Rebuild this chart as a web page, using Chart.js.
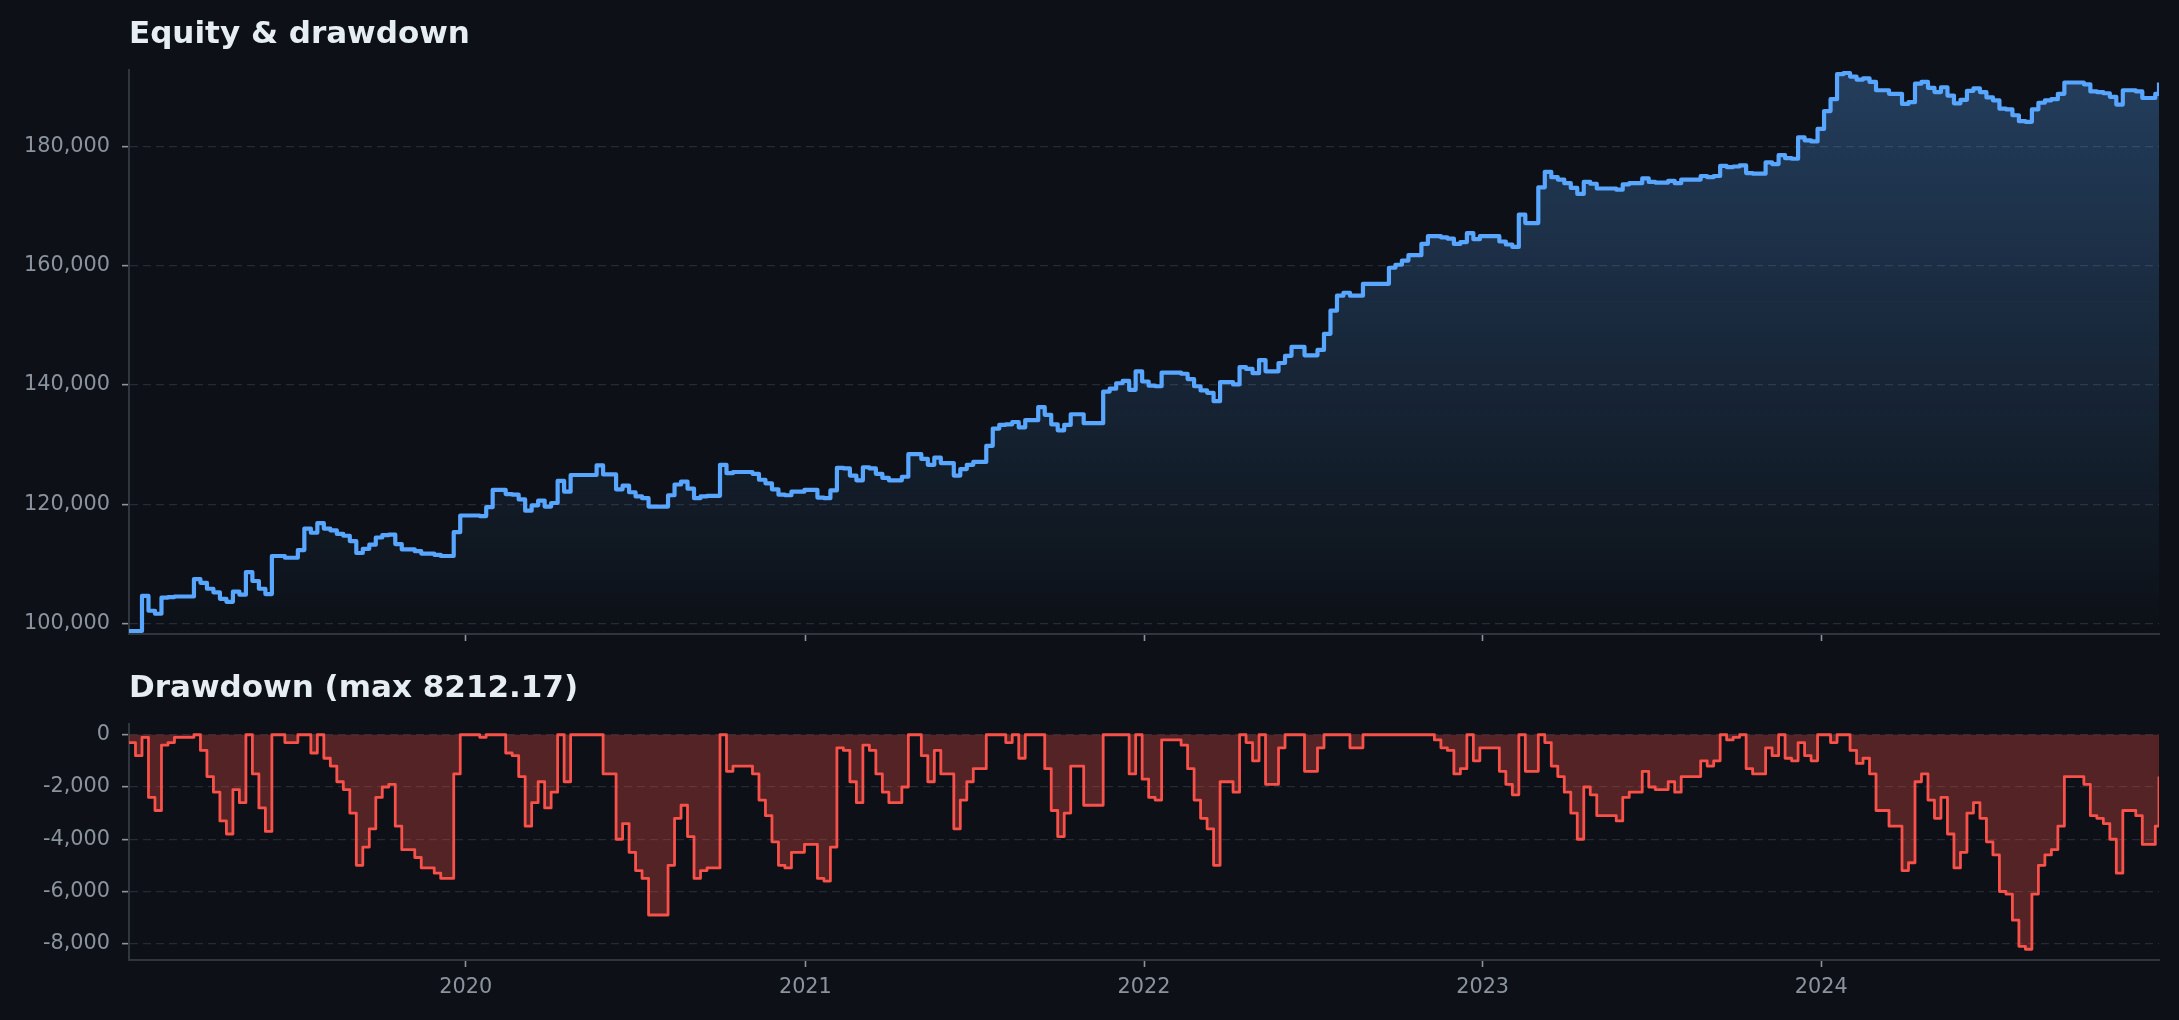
<!DOCTYPE html>
<html>
<head>
<meta charset="utf-8">
<script src="https://cdn.jsdelivr.net/npm/chart.js@4.4.1/dist/chart.umd.min.js"></script>
<style>
  html, body { margin: 0; padding: 0; background: #0d1117; }
  body { width: 2179px; height: 1020px; position: relative; overflow: hidden; }
  canvas { position: absolute; left: 0; }
  #equityChart { top: 0; }
  #drawdownChart { top: 664px; }
</style>
</head>
<body>
<canvas id="equityChart" width="2179" height="664"></canvas>
<canvas id="drawdownChart" width="2179" height="356"></canvas>
<script>
// ---- Data (weekly samples) ----
const firstDate = '2019-01-03';
const lastDate = '2024-12-30';
const stepDays = 7;

const equity2019 = [98700, 98700, 104600, 102100, 101600, 104300, 104400, 104500, 104500, 104500, 107400, 106800, 105800, 105200, 104100, 103600, 105300, 104800, 108600, 107100, 105800, 104900, 111300, 111300, 111000, 111000, 112300, 115900, 115200, 116800, 115900, 115600, 115000, 114700, 113800, 111800, 112500, 113200, 114400, 114800, 114900, 113300, 112400, 112400, 112100, 111700, 111700, 111500, 111300, 111300, 115300, 118100];
const equity2020 = [118100, 118100, 118000, 119500, 122400, 122400, 121700, 121600, 120800, 118900, 119800, 120600, 119600, 120200, 123900, 122100, 124900, 124900, 124900, 124900, 126500, 125000, 125000, 122500, 123100, 122000, 121300, 121000, 119600, 119600, 119600, 121500, 123300, 123800, 122600, 121000, 121300, 121400, 121400, 126600, 125200, 125400, 125400, 125400, 125100, 124100, 123500, 122500, 121600, 121500, 122100, 122100, 122400];
const equity2021 = [122400, 121100, 121000, 122300, 126100, 126000, 124800, 124000, 126200, 126000, 125100, 124400, 124000, 124000, 124600, 128400, 128400, 127600, 126600, 127800, 126900, 126900, 124800, 125900, 126600, 127100, 127100, 129800, 132700, 133300, 133400, 133800, 132900, 134100, 134100, 136300, 135000, 133400, 132400, 133300, 135100, 135100, 133600, 133600, 133600, 138900, 139400, 140300, 140700, 139200, 142300, 140600];
const equity2022 = [139900, 139800, 142100, 142100, 142100, 141900, 141000, 139800, 139100, 138700, 137300, 140500, 140500, 140100, 143000, 142700, 142000, 144200, 142300, 142300, 143700, 144900, 146400, 146400, 145000, 145000, 145900, 148600, 152500, 155000, 155500, 155000, 155000, 157000, 157000, 157000, 157000, 159700, 160200, 160900, 161800, 161800, 163700, 165000, 165000, 164800, 164600, 163700, 164000, 165500, 164500, 165000];
const equity2023 = [165000, 165000, 164100, 163600, 163200, 168600, 167200, 167200, 173200, 175800, 174900, 174500, 173900, 173100, 172100, 174100, 173800, 173000, 173000, 173000, 172800, 173700, 173900, 173900, 174700, 174100, 174000, 174000, 174300, 173900, 174500, 174500, 174500, 175100, 174900, 175100, 176800, 176600, 176700, 176900, 175600, 175500, 175500, 177400, 177100, 178600, 178100, 178000, 181600, 181100, 180900, 183000];
const equity2024 = [186000, 188000, 192200, 192400, 191800, 191300, 191500, 190900, 189500, 189500, 188900, 188900, 187200, 187500, 190600, 190900, 189900, 189200, 190000, 188600, 187300, 187900, 189400, 189800, 189200, 188300, 187800, 186400, 186300, 185300, 184300, 184190, 186300, 187400, 187800, 188000, 188900, 190800, 190800, 190800, 190500, 189300, 189200, 189000, 188400, 187100, 189500, 189500, 189300, 188200, 188200, 188900, 190800];

const drawdown2019 = [-300, -800, -100, -2400, -2900, -400, -300, -100, -100, -100, 0, -600, -1600, -2200, -3300, -3800, -2100, -2600, 0, -1500, -2800, -3700, 0, 0, -300, -300, 0, 0, -700, 0, -900, -1200, -1800, -2100, -3000, -5000, -4300, -3600, -2400, -2000, -1900, -3500, -4400, -4400, -4700, -5100, -5100, -5300, -5500, -5500, -1500, 0];
const drawdown2020 = [0, 0, -100, 0, 0, 0, -700, -800, -1600, -3500, -2600, -1800, -2800, -2200, 0, -1800, 0, 0, 0, 0, 0, -1500, -1500, -4000, -3400, -4500, -5200, -5500, -6900, -6900, -6900, -5000, -3200, -2700, -3900, -5500, -5200, -5100, -5100, 0, -1400, -1200, -1200, -1200, -1500, -2500, -3100, -4100, -5000, -5100, -4500, -4500, -4200];
const drawdown2021 = [-4200, -5500, -5600, -4300, -500, -600, -1800, -2600, -400, -600, -1500, -2200, -2600, -2600, -2000, 0, 0, -800, -1800, -600, -1500, -1500, -3600, -2500, -1800, -1300, -1300, 0, 0, 0, -300, 0, -900, 0, 0, 0, -1300, -2900, -3900, -3000, -1200, -1200, -2700, -2700, -2700, 0, 0, 0, 0, -1500, 0, -1700];
const drawdown2022 = [-2400, -2500, -200, -200, -200, -400, -1300, -2500, -3200, -3600, -5000, -1800, -1800, -2200, 0, -300, -1000, 0, -1900, -1900, -500, 0, 0, 0, -1400, -1400, -500, 0, 0, 0, 0, -500, -500, 0, 0, 0, 0, 0, 0, 0, 0, 0, 0, 0, -200, -500, -600, -1500, -1300, 0, -1000, -500];
const drawdown2023 = [-500, -500, -1400, -1900, -2300, 0, -1400, -1400, 0, -300, -1200, -1600, -2200, -3000, -4000, -2000, -2300, -3100, -3100, -3100, -3300, -2400, -2200, -2200, -1400, -2000, -2100, -2100, -1800, -2200, -1600, -1600, -1600, -1000, -1200, -1000, 0, -200, -100, 0, -1300, -1500, -1500, -500, -800, 0, -900, -1000, -300, -800, -1000, 0];
const drawdown2024 = [0, -300, 0, 0, -600, -1100, -900, -1500, -2900, -2900, -3500, -3500, -5200, -4900, -1800, -1500, -2500, -3200, -2400, -3800, -5100, -4500, -3000, -2600, -3200, -4100, -4600, -6000, -6100, -7100, -8100, -8212.17, -6100, -5000, -4600, -4400, -3500, -1600, -1600, -1600, -1900, -3100, -3200, -3400, -4000, -5300, -2900, -2900, -3100, -4200, -4200, -3500, -1600];

const equityTicks = [100000, 120000, 140000, 160000, 180000];
const drawdownTicks = [0, -2000, -4000, -6000, -8000];
const yearTicks = [2020, 2021, 2022, 2023, 2024];
const maxDrawdown = 8212.17;
const equityTitle = 'Equity & drawdown';
const drawdownTitle = 'Drawdown (max ' + maxDrawdown.toFixed(2) + ')';

// ---- Assemble ----
const equity = [].concat(equity2019, equity2020, equity2021, equity2022, equity2023, equity2024);
const drawdown = [].concat(drawdown2019, drawdown2020, drawdown2021, drawdown2022, drawdown2023, drawdown2024);
const DAY = 86400000;
const t0 = Date.parse(firstDate + 'T00:00:00Z');
const tLast = Date.parse(lastDate + 'T00:00:00Z');
const dates = equity.map((_, i) => (i === equity.length - 1 ? tLast : t0 + i * stepDays * DAY));

Chart.defaults.font.family = "'DejaVu Sans', sans-serif";
Chart.defaults.color = '#8b949e';

const TICK = '#8b949e';
const SPINE = '#30363d';
const GRID = '#252b34';
const fmt = v => Number(v).toLocaleString('en-US');

function xScale(showLabels, height) {
  return {
    type: 'linear',
    min: dates[0],
    max: dates[dates.length - 1],
    afterBuildTicks: s => { s.ticks = yearTicks.map(y => ({ value: Date.UTC(y, 0, 1) })); },
    afterFit: s => { s.height = height; },
    grid: { drawOnChartArea: false, drawTicks: true, tickLength: 7, tickColor: TICK, tickWidth: 1.6 },
    border: { display: true, color: SPINE, width: 2 },
    ticks: {
      display: showLabels, color: TICK, font: { size: 20.8 }, padding: 8,
      maxRotation: 0, autoSkip: false,
      callback: v => String(new Date(v).getUTCFullYear())
    }
  };
}

function yScale(min, max, tickValues) {
  return {
    type: 'linear',
    min: min,
    max: max,
    afterBuildTicks: s => { s.ticks = tickValues.map(v => ({ value: v })); },
    afterFit: s => { s.width = 129; },
    grid: { color: GRID, lineWidth: 1.3, drawTicks: true, tickLength: 7, tickColor: TICK, tickWidth: 1.6 },
    border: { display: true, color: SPINE, width: 2, dash: [8, 5] },
    ticks: { color: TICK, font: { size: 20.8 }, padding: 12, callback: v => fmt(v) }
  };
}

function titleOpts(text, top, bottom) {
  return {
    display: true, text: text, align: 'start', fullSize: false,
    color: '#e6edf3', font: { size: 31, weight: 'bold' },
    padding: { top: top, bottom: bottom }
  };
}

const equityFill = (ctx) => {
  const chart = ctx.chart;
  const area = chart.chartArea;
  if (!area) return 'rgba(88,166,255,0.15)';
  const g = chart.ctx.createLinearGradient(0, area.top, 0, area.bottom);
  g.addColorStop(0, 'rgba(88,166,255,0.30)');
  g.addColorStop(1, 'rgba(88,166,255,0.0)');
  return g;
};

new Chart(document.getElementById('equityChart'), {
  type: 'line',
  data: {
    datasets: [{
      label: 'Equity',
      data: dates.map((x, i) => ({ x: x, y: equity[i] })),
      stepped: true,
      borderColor: '#58a6ff',
      borderWidth: 4.2,
      borderJoinStyle: 'round',
      pointRadius: 0,
      fill: 'start',
      backgroundColor: equityFill
    }]
  },
  options: {
    responsive: false, animation: false, devicePixelRatio: 1,
    layout: { padding: { left: 0, right: 20, top: 0, bottom: 0 } },
    plugins: {
      legend: { display: false }, tooltip: { enabled: false },
      title: titleOpts(equityTitle, 16, 16.8)
    },
    scales: {
      x: xScale(false, 30),
      y: yScale(98200, 192900, equityTicks)
    }
  }
});

new Chart(document.getElementById('drawdownChart'), {
  type: 'line',
  data: {
    datasets: [{
      label: 'Drawdown',
      data: dates.map((x, i) => ({ x: x, y: drawdown[i] })),
      stepped: true,
      borderColor: '#f85149',
      borderWidth: 2.8,
      borderJoinStyle: 'round',
      pointRadius: 0,
      fill: 'origin',
      backgroundColor: 'rgba(248,81,73,0.30)'
    }]
  },
  options: {
    responsive: false, animation: false, devicePixelRatio: 1,
    layout: { padding: { left: 0, right: 20, top: 0, bottom: 0 } },
    plugins: {
      legend: { display: false }, tooltip: { enabled: false },
      title: titleOpts(drawdownTitle, 6.5, 16.3)
    },
    scales: {
      x: xScale(true, 60),
      y: yScale(-8622.8, 410.6, drawdownTicks)
    }
  }
});
</script>
</body>
</html>
